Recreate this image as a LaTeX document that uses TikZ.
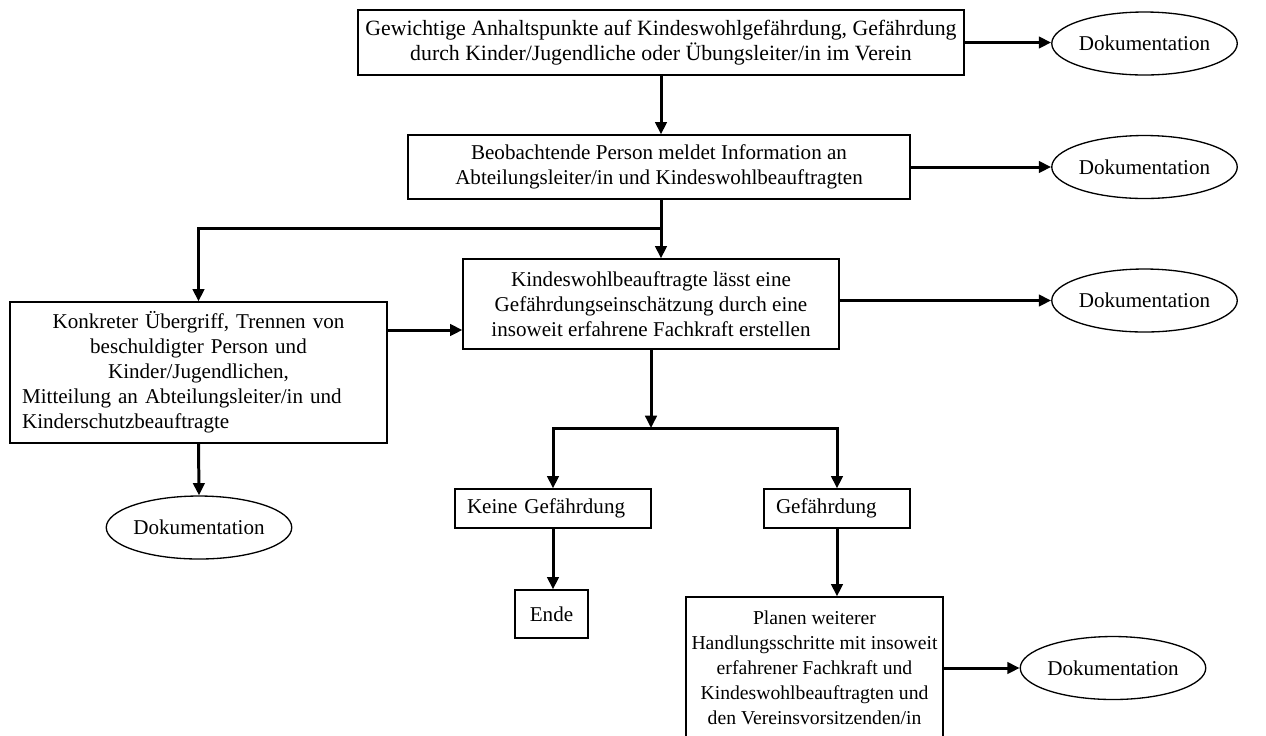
\documentclass[tikz,border=0pt]{standalone}
\usepackage{fontspec}
\setmainfont{Liberation Serif}
\usetikzlibrary{arrows.meta, shapes.geometric}

\begin{document}
\begin{tikzpicture}[x=0.02cm, y=-0.02cm,
  box/.style={draw, line width=0.75pt, align=center, inner sep=0pt,
    font=\fontsize{12pt}{14.2pt}\selectfont},
  doku/.style={draw, ellipse, line width=0.75pt, inner sep=0pt,
    minimum width=3.66cm, minimum height=1.26cm,
    font=\fontsize{12pt}{14.2pt}\selectfont},
  conn/.style={line width=1.7pt},
  arr/.style={conn, -{Triangle[length=7pt, width=6.5pt]}}]
  \useasboundingbox (0,0) rectangle (1266,735);

  % boxes
  \node[box, minimum width=12.12cm, minimum height=1.3cm,
    font=\fontsize{12.4pt}{14.2pt}\selectfont] (anh) at (661,42.5)
    {Gewichtige Anhaltspunkte auf Kindeswohlgefährdung, Gefährdung\\durch Kinder/Jugendliche oder Übungsleiter/in im Verein};
  \node[box, minimum width=10.04cm, minimum height=1.28cm] (beob) at (659,167)
    {Beobachtende Person meldet Information an\\Abteilungsleiter/in und Kindeswohlbeauftragten};
  \node[box, minimum width=7.52cm, minimum height=1.8cm] (kwb) at (651,304)
    {Kindeswohlbeauftragte lässt eine\\Gefährdungseinschätzung durch eine\\insoweit erfahrene Fachkraft erstellen};
  \node[box, align=left, text width=7.06cm, inner xsep=0.24cm, minimum height=2.82cm] (konk) at (198.5,372.5)
    {{\centering Konkreter Übergriff, Trennen von\\beschuldigter Person und\\Kinder/Jugendlichen,\par}Mitteilung an Abteilungsleiter/in und\\Kinderschutzbeauftragte};
  \node[box, align=left, text width=3.44cm, inner xsep=0.24cm, minimum height=0.78cm] (keine) at (553,508.5)
    {Keine Gefährdung};
  \node[box, align=left, text width=2.44cm, inner xsep=0.24cm, minimum height=0.78cm] (gef) at (837,508.5)
    {Gefährdung};
  \node[box, minimum width=1.46cm, minimum height=0.96cm] (ende) at (551.5,614) {Ende};
  \node[box, minimum width=5.14cm, minimum height=2.84cm,
    font=\fontsize{11.2pt}{14.2pt}\selectfont] (plan) at (814.5,668)
    {Planen weiterer\\Handlungsschritte mit insoweit\\erfahrener Fachkraft und\\Kindeswohlbeauftragten und\\den Vereinsvorsitzenden/in};

  % Dokumentation
  \node[doku] (dok1) at (1144.5,43.5) {Dokumentation};
  \node[doku] (dok2) at (1144.5,167) {Dokumentation};
  \node[doku] (dok3) at (1144.5,300.5) {Dokumentation};
  \node[doku] (dok4) at (199,527.5) {Dokumentation};
  \node[doku] (dok5) at (1113,668) {Dokumentation};

  \coordinate (j1) at (661,228);
  \coordinate (j2) at (651,428);
  \coordinate (k1) at (konk.east |- 0,330);

  % connectors
  \draw[arr] (anh.south) -- (anh.south |- beob.north);
  \draw[arr] (anh.east) -- (anh.east -| dok1.west);
  \draw[arr] (beob.east) -- (dok2.west);
  \draw[conn] (beob.south -| j1) -- (j1);
  \draw[arr] (j1) -- (j1 |- kwb.north);
  \draw[arr] (j1) -| (konk.north);
  \draw[arr] (kwb.east |- dok3) -- (dok3.west);
  \draw[arr] (k1) -- (k1 -| kwb.west);
  \draw[arr] (konk.south) -- (dok4.north);
  \draw[arr] (kwb.south) -- (j2);
  \draw[arr] (j2) -| (keine.north);
  \draw[arr] (j2) -| (gef.north);
  \draw[arr] (keine.south) -- (keine.south |- ende.north);
  \draw[arr] (gef.south) -- (gef.south |- plan.north);
  \draw[arr] (plan.east) -- (dok5.west);
\end{tikzpicture}
\end{document}
